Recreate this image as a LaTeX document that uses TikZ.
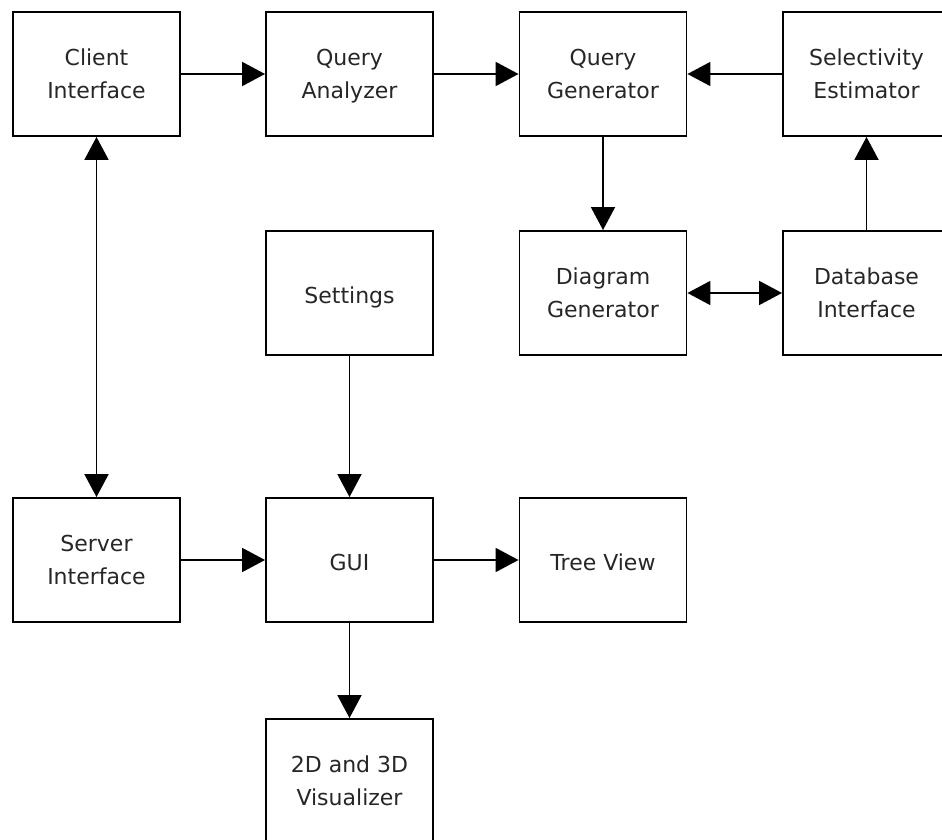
\documentclass[tikz,border=0pt]{standalone}
\usepackage{fontspec}
\setmainfont{DejaVu Sans}
\usetikzlibrary{arrows.meta}

\begin{document}
\begin{tikzpicture}[x=1pt,y=-1pt,
  blockbox/.style={draw=black, line width=1.9pt, minimum width=167pt, minimum height=124pt,
    inner sep=0pt, align=center, font=\fontsize{22}{33}\selectfont, text=black!85,
    text height=27pt, text depth=6pt},
  % labels set on two lines: the box is measured from the last baseline
  twolines/.style={blockbox, text height=55pt},
  link/.style={line width=1.9pt, -{Triangle[length=23pt,width=24pt]}},
  twoway/.style={line width=1.9pt, {Triangle[length=23pt,width=24pt]}-{Triangle[length=23pt,width=24pt]}}
]
\useasboundingbox (0,0) rectangle (942,840);

% top row
\node[twolines] (client) at (96.5,74) {Client\\Interface};
\node[twolines] (analyzer) at (349.5,74) {Query\\Analyzer};
\node[twolines] (generator) at (603,74) {Query\\Generator};
\node[twolines] (selectivity) at (866.5,74) {Selectivity\\Estimator};

% second row
\node[blockbox] (settings) at (349.5,293) {Settings};
\node[twolines] (diagram) at (603,293) {Diagram\\Generator};
\node[twolines] (database) at (866.5,293) {Database\\Interface};

% third row
\node[twolines] (server) at (96.5,560) {Server\\Interface};
\node[blockbox] (gui) at (349.5,560) {GUI};
\node[blockbox] (tree) at (603,560) {Tree View};

% bottom row
\node[twolines] (visualizer) at (349.5,781) {2D and 3D\\Visualizer};

% connectors
\draw[link] (client) -- (analyzer);
\draw[link] (analyzer) -- (generator);
\draw[link] (selectivity) -- (generator);
\draw[link] (generator) -- (diagram);
\draw[twoway] (diagram) -- (database);
\draw[link] (database) -- (selectivity);
\draw[twoway] (client) -- (server);
\draw[link] (settings) -- (gui);
\draw[link] (server) -- (gui);
\draw[link] (gui) -- (tree);
\draw[link] (gui) -- (visualizer);
\end{tikzpicture}
\end{document}
